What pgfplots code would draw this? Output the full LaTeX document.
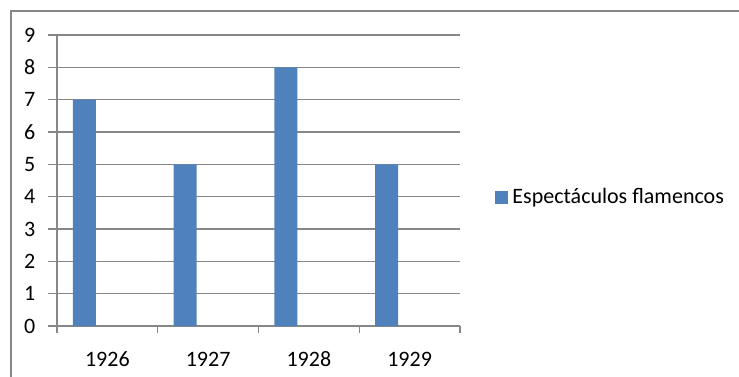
\documentclass[border=0pt]{standalone}
\usepackage{pgfplots}
\pgfplotsset{compat=1.18}
\usepackage{fontspec}
\setmainfont{Carlito}
\definecolor{barblue}{HTML}{4F81BD}
\definecolor{gridgray}{HTML}{878787}
\begin{document}
\fontsize{11}{13}\selectfont
\begin{tikzpicture}
  % canvas: 369.5pt x 188pt, origin bottom-left
  \path[use as bounding box] (0pt,0pt) rectangle (369.5pt,188pt);
  % chart frame (only top and left edges are inside the canvas)
  \draw[gridgray, line width=0.6pt] (5.5pt,-3pt) -- (5.5pt,182.5pt) -- (372pt,182.5pt);
  \begin{axis}[
    at={(28.5pt,25pt)}, anchor=south west,
    scale only axis,
    width=201.5pt, height=145.5pt,
    xmin=-0.5, xmax=3.5,
    ymin=0, ymax=9,
    ytick={0,...,9},
    xtick={0,1,2,3},
    xticklabels={1926,1927,1928,1929},
    minor xtick={-0.5,0.5,1.5,2.5,3.5},
    major x tick style={draw=none},
    minor x tick style={gridgray, line width=0.6pt},
    minor tick length=3.5pt,
    major tick length=4.5pt,
    tick align=outside,
    y tick style={gridgray, line width=0.6pt},
    ymajorgrids,
    grid style={gridgray, line width=0.6pt},
    axis line style={gridgray, line width=0.6pt},
    axis x line*=bottom,
    axis y line*=left,
    separate axis lines,
    /pgf/number format/assume math mode=true,
    ticklabel style={font=\fontsize{11}{13}\selectfont, text=black},
    yticklabel style={xshift=-2.5pt},
    xticklabel style={yshift=-4.5pt},
    ybar, bar width=11.5pt, bar shift=-11.5pt,
    legend style={
      at={(1.087,0.443)}, anchor=west, draw=none,
      font=\fontsize{11}{13}\selectfont, inner sep=0pt,
      legend cell align=left,
    },
    legend image code/.code={\fill[#1] (0pt,-3.25pt) rectangle (6.5pt,3.25pt);},
  ]
    \addplot[fill=barblue, draw=none] coordinates {(0,7) (1,5) (2,8) (3,5)};
    \addlegendentry{Espectáculos flamencos}
  \end{axis}
\end{tikzpicture}
\end{document}
